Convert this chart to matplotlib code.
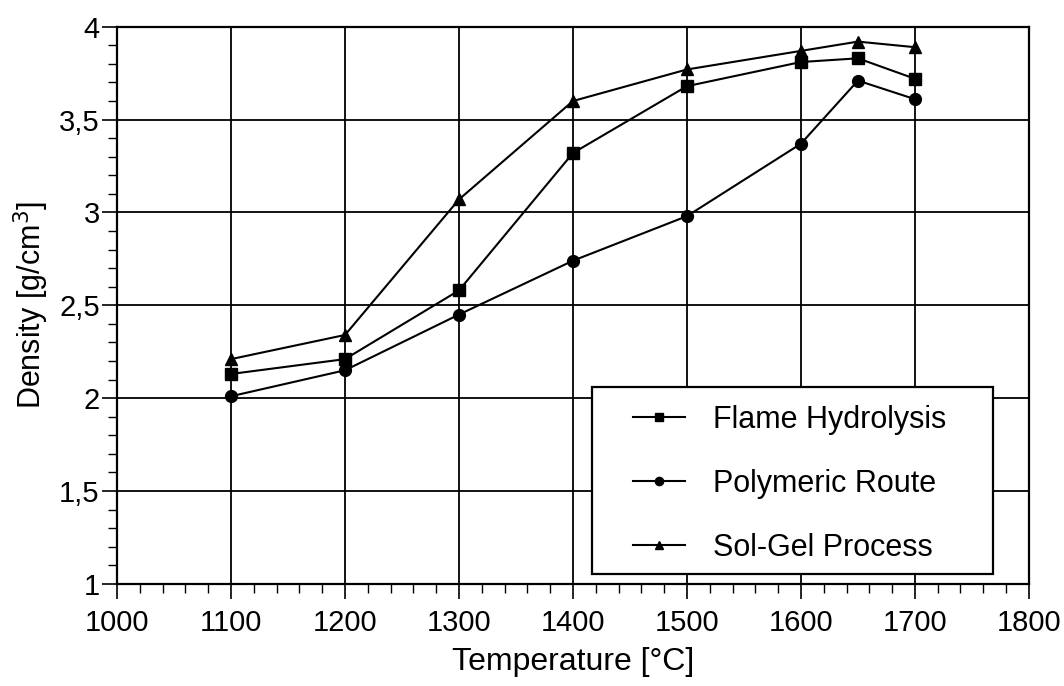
import numpy as np
import matplotlib
matplotlib.use("Agg")
import matplotlib.pyplot as plt
from matplotlib.patches import Rectangle
from matplotlib.ticker import MultipleLocator, FuncFormatter

plt.rcParams["font.family"] = ["Liberation Sans", "DejaVu Sans"]

temperature = [1100, 1200, 1300, 1400, 1500, 1600, 1650, 1700]
flame_hydrolysis = [2.13, 2.21, 2.58, 3.32, 3.68, 3.81, 3.83, 3.72]
polymeric_route = [2.01, 2.15, 2.45, 2.74, 2.98, 3.37, 3.71, 3.61]
sol_gel_process = [2.21, 2.34, 3.07, 3.60, 3.77, 3.87, 3.92, 3.89]

series = [
    ("Flame Hydrolysis", flame_hydrolysis, "s", 8.5),
    ("Polymeric Route", polymeric_route, "o", 8.5),
    ("Sol-Gel Process", sol_gel_process, "^", 9),
]


def comma_fmt(v, pos):
    return f"{v:g}".replace(".", ",")


def main():
    fig = plt.figure(figsize=(10.64, 6.86), dpi=100)
    ax = fig.add_axes([0.110, 0.149, 0.857, 0.812])

    for label, vals, marker, ms in series:
        ax.plot(temperature, vals, color="black", lw=1.5, marker=marker,
                markersize=ms, label=label)

    ax.set_xlim(1000, 1800)
    ax.set_ylim(1, 4)
    ax.xaxis.set_major_locator(MultipleLocator(100))
    ax.xaxis.set_minor_locator(MultipleLocator(20))
    ax.yaxis.set_major_locator(MultipleLocator(0.5))
    ax.yaxis.set_minor_locator(MultipleLocator(0.1))
    ax.yaxis.set_major_formatter(FuncFormatter(comma_fmt))

    ax.grid(True, which="major", color="black", lw=1.3)
    ax.tick_params(which="major", direction="out", length=11, width=1.2,
                   labelsize=21, colors="black")
    ax.tick_params(axis="x", which="major", pad=7.5)
    ax.tick_params(axis="y", which="major", pad=1.5)
    ax.tick_params(which="minor", direction="out", length=6.5, width=1.0)
    for sp in ax.spines.values():
        sp.set_linewidth(1.6)

    ax.set_xlabel("Temperature [°C]", fontsize=23, labelpad=7)
    ax.set_ylabel("Density [g/cm$^3$]", fontsize=22)
    ax.yaxis.set_label_coords(-0.072, 0.5)

    # legend frame drawn separately so the entries can sit inside it freely
    frame = Rectangle((0.521, 0.018), 0.440, 0.336, transform=ax.transAxes,
                      facecolor="white", edgecolor="black", lw=1.6, zorder=4.5)
    ax.add_patch(frame)
    leg = ax.legend(loc="upper left", bbox_to_anchor=(0.566, 0.321),
                    fontsize=22, frameon=False, labelspacing=1.11,
                    handlelength=1.7, handletextpad=0.9, borderpad=0,
                    borderaxespad=0, markerscale=0.7)
    leg.set_zorder(5)

    fig.savefig("out.png", dpi=100)


if __name__ == "__main__":
    main()
